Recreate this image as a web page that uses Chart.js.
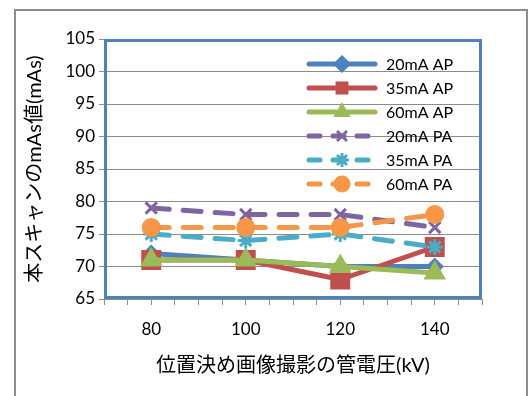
<!DOCTYPE html>
<html>
<head>
<meta charset="utf-8">
<script src="https://cdn.jsdelivr.net/npm/chart.js@4/dist/chart.umd.min.js"></script>
<style>
  html, body { margin: 0; padding: 0; background: #fff; }
  #wrap { width: 531px; height: 396px; }
</style>
</head>
<body>
<div id="wrap"><canvas id="c" width="531" height="396"></canvas></div>
<script>
// Tube voltage of the scout image (kV)
const kv = [80, 100, 120, 140];
// Main-scan mAs per protocol
const ap20 = [72, 71, 70, 70];
const ap35 = [71, 71, 68, 73];
const ap60 = [71, 71, 70, 69];
const pa20 = [79, 78, 78, 76];
const pa35 = [75, 74, 75, 73];
const pa60 = [76, 76, 76, 78];
const seriesNames = ['20mA AP', '35mA AP', '60mA AP', '20mA PA', '35mA PA', '60mA PA'];
const xLabels = ['80', '100', '120', '140'];

const FONT = "Lato, 'Noto Sans CJK JP', sans-serif";

const styles = [
  { color: '#4F81BD', point: 'rectRot', r: 7, dash: [] },
  { color: '#C0504D', point: 'rect', r: 12, dash: [] },
  { color: '#9BBB59', point: 'triangle', r: 10, dash: [] },
  { color: '#8064A2', point: 'crossRot', r: 8, dash: [18, 14] },
  { color: '#4BACC6', point: 'star', r: 8, dash: [18, 14] },
  { color: '#F79646', point: 'circle', r: 8, dash: [18, 14] }
];

const values = [ap20, ap35, ap60, pa20, pa35, pa60];

const datasets = values.map((vals, i) => ({
  label: seriesNames[i],
  data: kv.map((k, j) => ({ x: k, y: vals[j] })),
  borderColor: styles[i].color,
  backgroundColor: styles[i].color,
  borderWidth: 5,
  borderDash: styles[i].dash,
  borderCapStyle: 'round',
  borderJoinStyle: 'round',
  pointStyle: styles[i].point,
  pointRadius: styles[i].r,
  pointBorderWidth: 3,
  pointBorderColor: styles[i].color,
  pointBackgroundColor: styles[i].color,
  tension: 0,
  order: 10 - i
}));

// Outer frame, plot border and the in-plot legend
const decor = {
  id: 'decor',
  beforeDraw(chart) {
    const ctx = chart.ctx;
    ctx.save();
    ctx.fillStyle = '#fff';
    ctx.fillRect(0, 0, chart.width, chart.height);
    ctx.strokeStyle = '#8c8c8c';
    ctx.lineWidth = 2;
    ctx.strokeRect(15, 10, 512, 400);
    ctx.restore();
  },
  beforeDatasetsDraw(chart) {
    const a = chart.chartArea;
    const ctx = chart.ctx;
    ctx.save();
    ctx.strokeStyle = '#4F81BD';
    ctx.lineWidth = 3;
    ctx.strokeRect(a.left + 1.5, a.top + 1.5, a.right - a.left - 3, a.bottom - a.top - 3);
    ctx.restore();
  },
  afterDraw(chart) {
    const ctx = chart.ctx;
    const x0 = 307, x1 = 377, tx = 386, y0 = 64, dy = 24;
    ctx.save();
    chart.data.datasets.forEach((ds, i) => {
      const y = y0 + i * dy;
      ctx.save();
      ctx.strokeStyle = ds.borderColor;
      ctx.lineWidth = 5;
      ctx.lineCap = 'round';
      ctx.setLineDash(ds.borderDash.length ? [11, 13] : []);
      ctx.beginPath();
      ctx.moveTo(x0 + 2, y);
      ctx.lineTo(x1 - 2, y);
      ctx.stroke();
      ctx.restore();
      ctx.save();
      ctx.fillStyle = ds.pointBackgroundColor;
      ctx.strokeStyle = ds.pointBorderColor;
      ctx.lineWidth = 3;
      Chart.helpers.drawPoint(ctx, {
        pointStyle: ds.pointStyle,
        radius: Math.min(ds.pointRadius, 7),
        rotation: 0,
        borderWidth: 3
      }, (x0 + x1) / 2, y);
      ctx.restore();
      ctx.fillStyle = '#000';
      ctx.font = '16px ' + FONT;
      ctx.textBaseline = 'middle';
      ctx.textAlign = 'left';
      ctx.fillText(ds.label, tx, y + 1);
    });
    ctx.restore();
  }
};

new Chart(document.getElementById('c'), {
  type: 'line',
  data: { datasets },
  plugins: [decor],
  options: {
    responsive: false,
    animation: false,
    devicePixelRatio: 1,
    layout: { padding: { left: 15, top: 39, right: 49, bottom: 0 } },
    plugins: {
      legend: { display: false },
      tooltip: { enabled: false }
    },
    scales: {
      x: {
        type: 'linear',
        min: 70,
        max: 150,
        afterFit(s) { s.height = 97; },
        afterBuildTicks(s) {
          const t = [];
          for (let v = 70; v <= 150; v += 5) t.push({ value: v });
          s.ticks = t;
        },
        grid: {
          drawOnChartArea: false,
          color: '#8c8c8c',
          tickLength: 6,
          lineWidth: 1
        },
        border: { color: '#8c8c8c', width: 1 },
        ticks: {
          autoSkip: false,
          maxRotation: 0,
          padding: 14,
          color: '#000',
          font: { family: FONT, size: 17 },
          callback(v) {
            const idx = kv.indexOf(v);
            return idx >= 0 ? xLabels[idx] : '';
          }
        },
        title: {
          display: true,
          text: '位置決め画像撮影の管電圧(kV)',
          color: '#000',
          font: { family: FONT, size: 20 },
          padding: { top: 4, bottom: 18 }
        }
      },
      y: {
        min: 65,
        max: 105,
        afterFit(s) { s.width = 89; },
        grid: {
          color: '#8c8c8c',
          tickLength: 5,
          lineWidth: 1
        },
        border: { color: '#8c8c8c', width: 1 },
        ticks: {
          stepSize: 5,
          padding: 4,
          color: '#000',
          font: { family: FONT, size: 17 }
        },
        title: {
          display: true,
          text: '本スキャンのmAs値(mAs)',
          color: '#000',
          font: { family: FONT, size: 20 },
          padding: { bottom: 0, top: 8 }
        }
      }
    }
  }
});
</script>
</body>
</html>
